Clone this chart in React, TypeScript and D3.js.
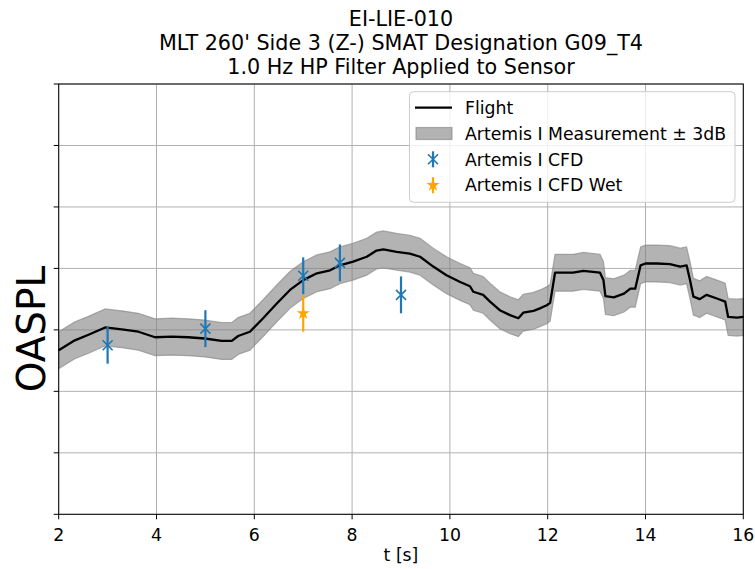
import React from "react";
import * as d3 from "d3";

// ---------- data ----------
const TIME = [2.0, 2.33, 2.61, 2.95, 3.29, 3.63, 3.97, 4.31, 4.65, 4.99, 5.33, 5.54, 5.67, 5.91, 6.18, 6.46, 6.73, 7.0, 7.28, 7.55, 7.75, 8.02, 8.3, 8.5, 8.64, 8.91, 9.18, 9.39, 9.66, 9.93, 10.21, 10.41, 10.48, 10.68, 10.82, 11.02, 11.23, 11.4, 11.5, 11.71, 11.84, 11.98, 12.05, 12.15, 12.52, 12.73, 13.07, 13.14, 13.18, 13.35, 13.56, 13.69, 13.79, 13.9, 14.0, 14.23, 14.5, 14.71, 14.84, 14.91, 14.98, 15.11, 15.25, 15.46, 15.63, 15.69, 15.87, 16.0];
const FLIGHT = [126.7, 128.3, 129.2, 130.4, 130.1, 129.7, 128.8, 128.9, 128.8, 128.6, 128.2, 128.2, 129.0, 129.7, 131.9, 134.3, 136.5, 138.1, 139.2, 139.7, 140.5, 141.1, 141.9, 142.9, 143.1, 142.7, 142.4, 141.9, 140.3, 138.9, 137.8, 137.1, 136.2, 135.7, 134.6, 133.2, 132.4, 131.9, 132.8, 133.1, 133.5, 134.0, 134.4, 139.3, 139.3, 139.6, 139.3, 138.1, 135.5, 135.3, 135.9, 136.7, 136.7, 140.5, 140.8, 140.8, 140.7, 140.3, 140.5, 138.1, 135.4, 135.0, 135.7, 135.1, 134.6, 132.1, 132.0, 132.1];
const BAND_DB = 3;
const CFD_T = [3, 5, 7, 7.75, 9];
const CFD_DB = [127.5, 130.2, 138.8, 140.9, 135.7];
const CFD_ERR = 3;
const WET_T = [7];
const WET_DB = [132.7];
const WET_ERR = 3;
const X_TICKS = [2, 4, 6, 8, 10, 12, 14, 16];
const Y_TICKS = [100, 110, 120, 130, 140, 150, 160, 170];
const TITLE = ["EI-LIE-010", "MLT 260' Side 3 (Z-) SMAT Designation G09_T4", "1.0 Hz HP Filter Applied to Sensor"];
const LEGEND = ["Flight", "Artemis I Measurement \u00b1 3dB", "Artemis I CFD", "Artemis I CFD Wet"];

const W = 755, H = 569;
const L = 58.7, R = 743.3, T = 84, B = 514.3;
const FONT = "DejaVu Sans, sans-serif";
const BLUE = "#1f77b4";
const ORANGE = "#ffa500";

function XMark({ cx, cy, s, color }: { cx: number; cy: number; s: number; color: string }) {
  return (
    <g stroke={color} strokeWidth={1.6}>
      <line x1={cx - s} y1={cy - s} x2={cx + s} y2={cy + s} />
      <line x1={cx - s} y1={cy + s} x2={cx + s} y2={cy - s} />
    </g>
  );
}

export default function App() {
  const x = d3.scaleLinear().domain([2, 16]).range([L, R]);
  const y = d3.scaleLinear().domain([100, 170]).range([B, T]);
  const pts = TIME.map((t, i) => ({ t, v: FLIGHT[i] }));
  const area = d3.area<{ t: number; v: number }>()
    .x((d) => x(d.t)).y0((d) => y(d.v - BAND_DB)).y1((d) => y(d.v + BAND_DB));
  const line = d3.line<{ t: number; v: number }>().x((d) => x(d.t)).y((d) => y(d.v));
  const star = d3.symbol(d3.symbolStar, 55)();
  const lx = 433;
  const rows = [107.7, 133.5, 159.3, 185.2];

  return (
    <svg width={W} height={H} style={{ position: "absolute", left: 0, top: 0, background: "#fff" }} fontFamily={FONT}>
      {/* title */}
      {TITLE.map((s, i) => (
        <text key={i} x={(L + R) / 2} y={26 + i * 24} textAnchor="middle" fontSize={20.7} fill="#000">{s}</text>
      ))}
      {/* grid */}
      <g stroke="#b0b0b0" strokeWidth={1}>
        {X_TICKS.map((t) => <line key={"gx" + t} x1={x(t)} x2={x(t)} y1={T} y2={B} />)}
        {Y_TICKS.map((t) => <line key={"gy" + t} x1={L} x2={R} y1={y(t)} y2={y(t)} />)}
      </g>
      {/* band */}
      <path d={area(pts) ?? ""} fill="gray" fillOpacity={0.6} stroke="gray" strokeOpacity={0.6} strokeWidth={1.2} />
      {/* flight */}
      <path d={line(pts) ?? ""} fill="none" stroke="#000" strokeWidth={2.3} strokeLinejoin="round" />
      {/* CFD */}
      {CFD_T.map((t, i) => (
        <g key={"c" + i}>
          <line x1={x(t)} x2={x(t)} y1={y(CFD_DB[i] - CFD_ERR)} y2={y(CFD_DB[i] + CFD_ERR)} stroke={BLUE} strokeWidth={2.2} />
          <XMark cx={x(t)} cy={y(CFD_DB[i])} s={5} color={BLUE} />
        </g>
      ))}
      {WET_T.map((t, i) => (
        <g key={"w" + i}>
          <line x1={x(t)} x2={x(t)} y1={y(WET_DB[i] - WET_ERR)} y2={y(WET_DB[i] + WET_ERR)} stroke={ORANGE} strokeWidth={2.2} />
          <path d={star ?? ""} transform={`translate(${x(t)},${y(WET_DB[i])})`} fill={ORANGE} />
        </g>
      ))}
      {/* spines */}
      <rect x={L} y={T} width={R - L} height={B - T} fill="none" stroke="#000" strokeWidth={1} />
      {/* ticks */}
      <g stroke="#000" strokeWidth={1}>
        {X_TICKS.map((t) => <line key={"tx" + t} x1={x(t)} x2={x(t)} y1={B} y2={B + 5} />)}
        {Y_TICKS.map((t) => <line key={"ty" + t} x1={L - 5} x2={L} y1={y(t)} y2={y(t)} />)}
      </g>
      {X_TICKS.map((t) => (
        <text key={"lx" + t} x={x(t)} y={540.5} textAnchor="middle" fontSize={17.3} fill="#000">{t}</text>
      ))}
      <text x={(L + R) / 2} y={561} textAnchor="middle" fontSize={17.3} fill="#000">t [s]</text>
      <text transform="translate(45,329) rotate(-90)" textAnchor="middle" fontSize={39} fill="#000">OASPL</text>
      {/* legend */}
      <rect x={409.5} y={91.7} width={325.5} height={110.6} rx={4} fill="#fff" fillOpacity={0.8} stroke="#cccccc" strokeWidth={1} />
      <line x1={415} x2={452} y1={rows[0]} y2={rows[0]} stroke="#000" strokeWidth={2.3} />
      <rect x={416} y={rows[1] - 6} width={36} height={12} fill="gray" fillOpacity={0.6} stroke="gray" strokeOpacity={0.6} strokeWidth={1.2} />
      <line x1={lx} x2={lx} y1={rows[2] - 8} y2={rows[2] + 8} stroke={BLUE} strokeWidth={2.2} />
      <XMark cx={lx} cy={rows[2]} s={5} color={BLUE} />
      <line x1={lx} x2={lx} y1={rows[3] - 8} y2={rows[3] + 8} stroke={ORANGE} strokeWidth={2.2} />
      <path d={star ?? ""} transform={`translate(${lx},${rows[3]})`} fill={ORANGE} />
      {LEGEND.map((s, i) => (
        <text key={"lg" + i} x={465} y={rows[i] + 6.2} fontSize={17.3} fill="#000">{s}</text>
      ))}
    </svg>
  );
}
